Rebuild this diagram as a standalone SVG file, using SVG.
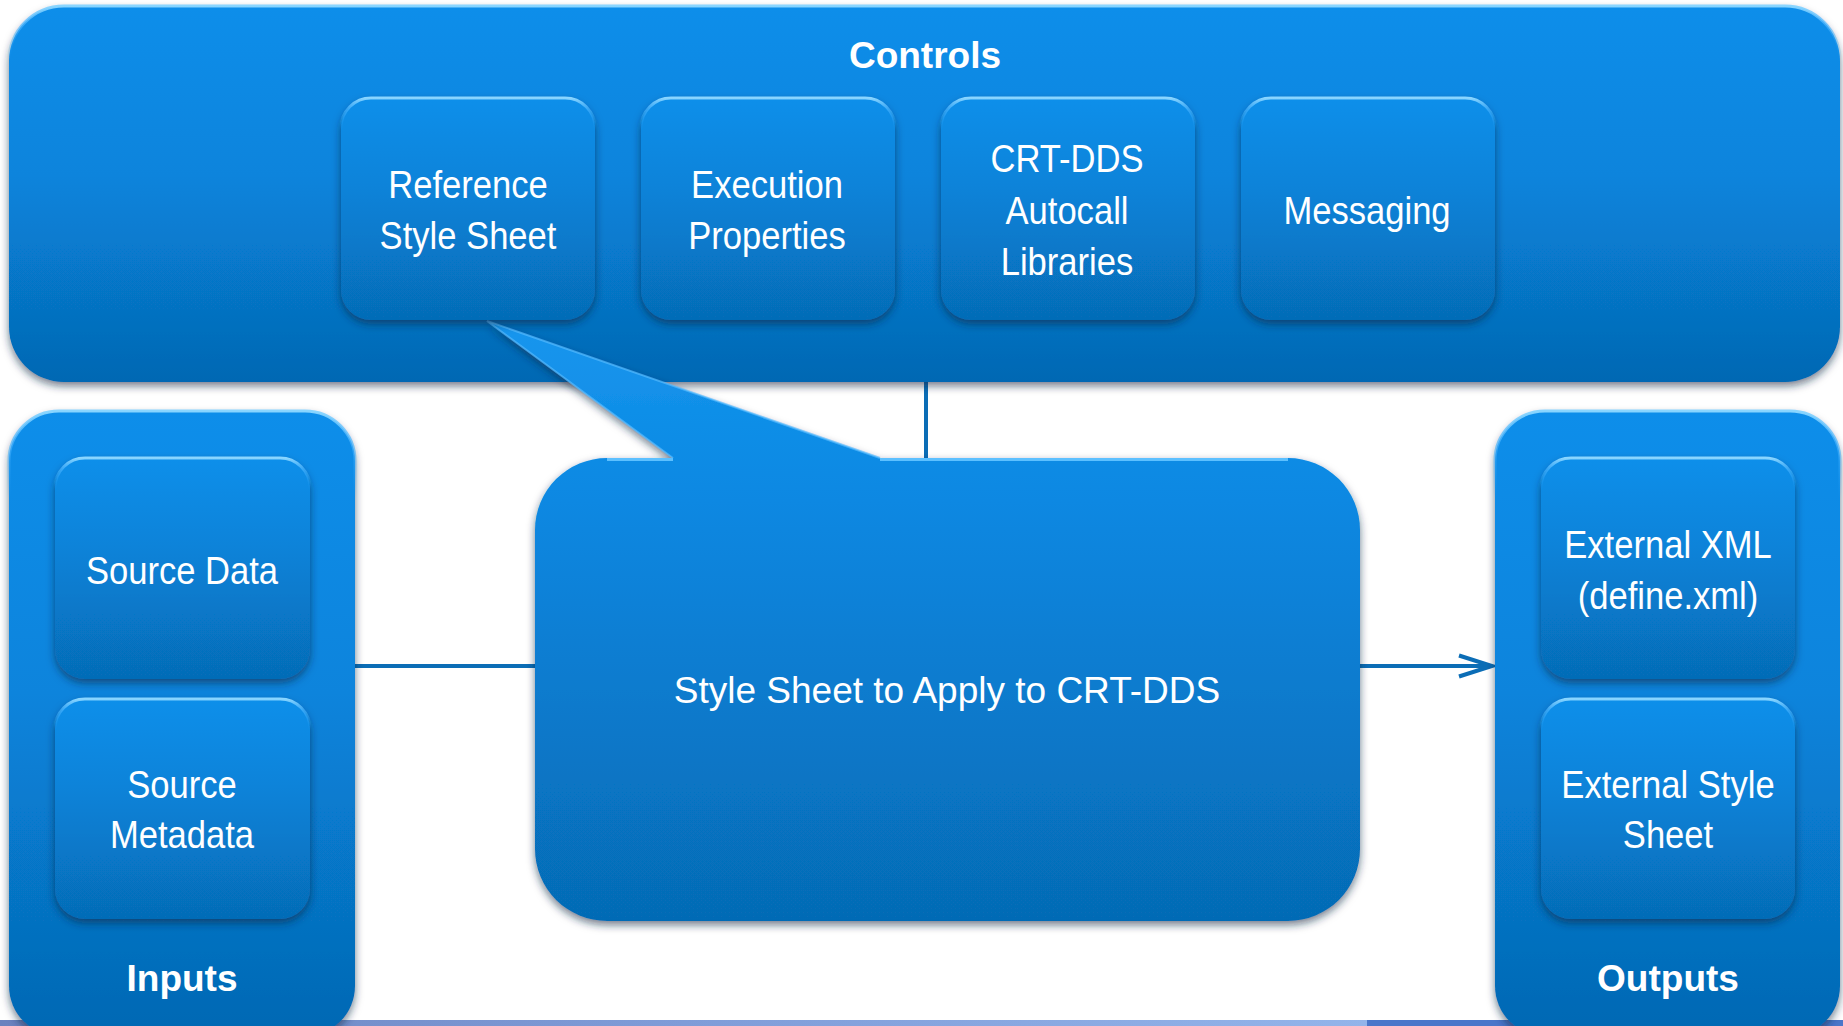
<svg xmlns="http://www.w3.org/2000/svg" width="1843" height="1026" viewBox="0 0 1843 1026">
  <defs>
    <linearGradient id="panelGrad" x1="0" y1="0" x2="0" y2="1">
      <stop offset="0" stop-color="#0a8eea"/>
      <stop offset="0.45" stop-color="#0884dc"/>
      <stop offset="1" stop-color="#0568b3"/>
    </linearGradient>
    <linearGradient id="boxGrad" x1="0" y1="0" x2="0" y2="1">
      <stop offset="0" stop-color="#0b8fea"/>
      <stop offset="0.4" stop-color="#0883d9"/>
      <stop offset="1" stop-color="#066cb7"/>
    </linearGradient>
    <linearGradient id="calloutGrad" gradientUnits="userSpaceOnUse" x1="0" y1="321" x2="0" y2="921">
      <stop offset="0" stop-color="#1896ee"/>
      <stop offset="0.3" stop-color="#0988e2"/>
      <stop offset="1" stop-color="#066bb5"/>
    </linearGradient>
    <linearGradient id="rim" x1="0" y1="0" x2="0" y2="1">
      <stop offset="0" stop-color="#8ad6ff" stop-opacity="1"/>
      <stop offset="0.05" stop-color="#4ab4ff" stop-opacity="0.7"/>
      <stop offset="0.14" stop-color="#2aa0f5" stop-opacity="0"/>
      <stop offset="1" stop-color="#2aa0f5" stop-opacity="0"/>
    </linearGradient>
    <linearGradient id="strip1" x1="0" y1="0" x2="1" y2="0">
      <stop offset="0" stop-color="#6a82bf"/>
      <stop offset="0.5" stop-color="#7f9cd8"/>
      <stop offset="1" stop-color="#93b4ea"/>
    </linearGradient>
    <filter id="shadow" x="-10%" y="-10%" width="120%" height="130%">
      <feDropShadow dx="0" dy="4" stdDeviation="4" flood-color="#0a2540" flood-opacity="0.6"/>
    </filter>
    <marker id="chev" viewBox="0 0 40 24" refX="36" refY="12" markerWidth="40" markerHeight="24" markerUnits="userSpaceOnUse" orient="auto" overflow="visible">
      <path d="M 3,1.5 L 36,12 L 3,22.5" fill="none" stroke="#0b6db6" stroke-width="4" stroke-linejoin="miter"/>
    </marker>
  </defs>
  <style>
    .panel { fill: url(#panelGrad); filter: url(#shadow); }
    .box { fill: url(#boxGrad); filter: url(#shadow); }
    .rim { fill: none; stroke: url(#rim); stroke-width: 3; }
    .title { font-family: "Liberation Sans", Arial, sans-serif; font-weight: bold; font-size: 37px; fill: #ffffff; text-anchor: middle; }
    .lbl { font-family: "Liberation Sans", Arial, sans-serif; font-size: 38px; fill: #ffffff; text-anchor: middle; }
    .main { font-family: "Liberation Sans", Arial, sans-serif; font-size: 37px; fill: #ffffff; text-anchor: middle; }
    .conn { stroke: #0b6db6; stroke-width: 4; fill: none; }
  </style>

  <rect width="1843" height="1026" fill="#ffffff"/>
  <rect x="0" y="1020" width="1367" height="6" fill="url(#strip1)"/>
  <rect x="1367" y="1020" width="476" height="6" fill="#4a76ca"/>

  <g id="connectors">
    <line class="conn" x1="926" y1="380" x2="926" y2="460"/>
    <line class="conn" x1="353" y1="666" x2="537" y2="666"/>
    <line class="conn" x1="1358" y1="666" x2="1492" y2="666" marker-end="url(#chev)"/>
  </g>

  <g id="controls">
    <rect class="panel" x="9" y="6" width="1831" height="376" rx="55"/>
    <rect class="rim" x="9" y="6" width="1831" height="376" rx="55"/>
    <text class="title" x="925" y="68">Controls</text>
  </g>

  <g id="inputs">
    <rect class="panel" x="9" y="411" width="346" height="625" rx="50"/>
    <rect class="rim" x="9" y="411" width="346" height="625" rx="50"/>
    <text class="title" x="182" y="991">Inputs</text>
  </g>

  <g id="outputs">
    <rect class="panel" x="1495" y="411" width="345" height="625" rx="50"/>
    <rect class="rim" x="1495" y="411" width="345" height="625" rx="50"/>
    <text class="title" x="1668" y="991">Outputs</text>
  </g>

  <g id="central">
    <path d="M 607,458 L 673,458 L 487,321 L 880,458 L 1288,458 A 72,72 0 0 1 1360,530 L 1360,849 A 72,72 0 0 1 1288,921 L 607,921 A 72,72 0 0 1 535,849 L 535,530 A 72,72 0 0 1 607,458 Z" fill="url(#calloutGrad)" filter="url(#shadow)"/>
    <path d="M 607,459.5 L 673,459.5 M 880,459.5 L 1288,459.5" stroke="#5cc0ff" stroke-width="3" fill="none"/>
    <path d="M 673,458 L 487,321 L 880,458" stroke="#56bbff" stroke-width="2" fill="none" stroke-opacity="0.7"/>
    <text class="main" x="947" y="703">Style Sheet to Apply to CRT-DDS</text>
  </g>

  <g id="ref-style-sheet">
    <rect class="box" x="341" y="98" width="254" height="222" rx="30"/>
    <rect class="rim" x="341" y="98" width="254" height="222" rx="30"/>
    <g transform="translate(468 0) scale(0.91 1)">
      <text class="lbl" x="0" y="198">Reference</text>
      <text class="lbl" x="0" y="249">Style Sheet</text>
    </g>
  </g>

  <g id="execution-properties">
    <rect class="box" x="641" y="98" width="254" height="222" rx="30"/>
    <rect class="rim" x="641" y="98" width="254" height="222" rx="30"/>
    <g transform="translate(767 0) scale(0.91 1)">
      <text class="lbl" x="0" y="198">Execution</text>
      <text class="lbl" x="0" y="249">Properties</text>
    </g>
  </g>

  <g id="crt-dds-autocall">
    <rect class="box" x="941" y="98" width="254" height="222" rx="30"/>
    <rect class="rim" x="941" y="98" width="254" height="222" rx="30"/>
    <g transform="translate(1067 0) scale(0.91 1)">
      <text class="lbl" x="0" y="172">CRT-DDS</text>
      <text class="lbl" x="0" y="224">Autocall</text>
      <text class="lbl" x="0" y="275">Libraries</text>
    </g>
  </g>

  <g id="messaging">
    <rect class="box" x="1241" y="98" width="254" height="222" rx="30"/>
    <rect class="rim" x="1241" y="98" width="254" height="222" rx="30"/>
    <g transform="translate(1367 0) scale(0.91 1)">
      <text class="lbl" x="0" y="224">Messaging</text>
    </g>
  </g>

  <g id="source-data">
    <rect class="box" x="55" y="458" width="255" height="221" rx="30"/>
    <rect class="rim" x="55" y="458" width="255" height="221" rx="30"/>
    <g transform="translate(182 0) scale(0.91 1)">
      <text class="lbl" x="0" y="584">Source Data</text>
    </g>
  </g>

  <g id="source-metadata">
    <rect class="box" x="55" y="699" width="255" height="220" rx="30"/>
    <rect class="rim" x="55" y="699" width="255" height="220" rx="30"/>
    <g transform="translate(182 0) scale(0.91 1)">
      <text class="lbl" x="0" y="798">Source</text>
      <text class="lbl" x="0" y="848">Metadata</text>
    </g>
  </g>

  <g id="external-xml">
    <rect class="box" x="1541" y="458" width="254" height="221" rx="30"/>
    <rect class="rim" x="1541" y="458" width="254" height="221" rx="30"/>
    <g transform="translate(1668 0) scale(0.91 1)">
      <text class="lbl" x="0" y="558">External XML</text>
      <text class="lbl" x="0" y="609">(define.xml)</text>
    </g>
  </g>

  <g id="external-style-sheet">
    <rect class="box" x="1541" y="699" width="254" height="220" rx="30"/>
    <rect class="rim" x="1541" y="699" width="254" height="220" rx="30"/>
    <g transform="translate(1668 0) scale(0.91 1)">
      <text class="lbl" x="0" y="798">External Style</text>
      <text class="lbl" x="0" y="848">Sheet</text>
    </g>
  </g>
</svg>
